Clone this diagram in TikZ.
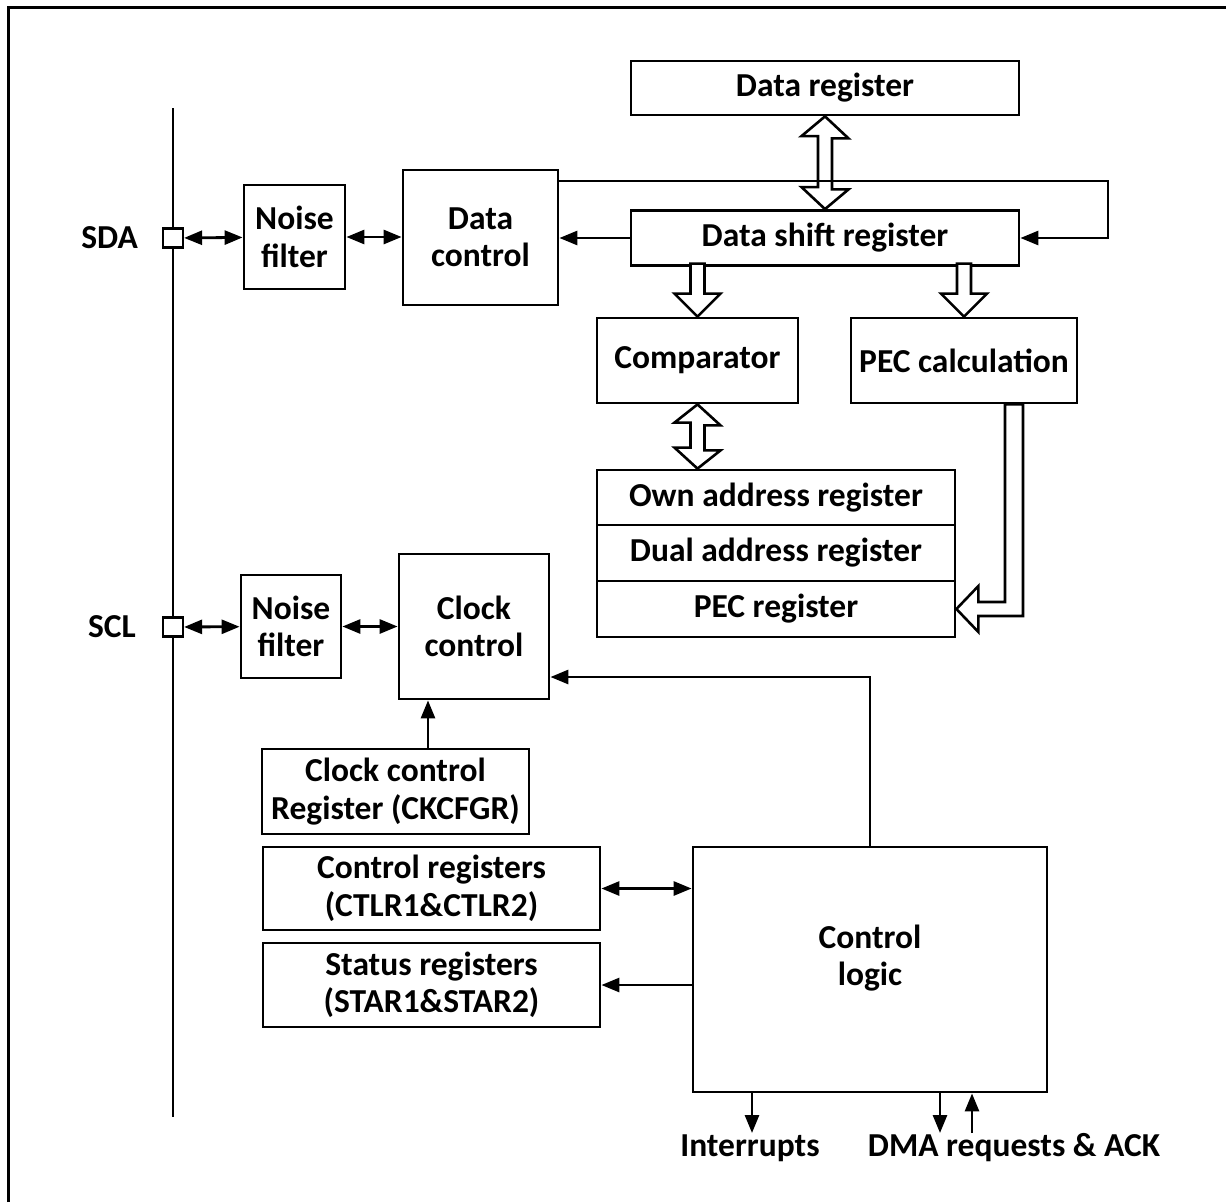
\documentclass[tikz,border=0pt]{standalone}
\usepackage{fontspec}
\setmainfont{Carlito}
\usetikzlibrary{arrows.meta,calc}

\begin{document}
\begin{tikzpicture}[x=1pt,y=-1pt]
    \tikzstyle{blk} = [draw, line width=2.8pt, align=center, inner sep=0pt, font=\bfseries\fontsize{33.5}{37.5}\selectfont]
    \tikzstyle{lbl} = [align=center, inner sep=2pt, font=\bfseries\fontsize{33.5}{37.5}\selectfont]
    \tikzstyle{pad} = [draw, line width=2.2pt, fill=white, minimum width=20pt, minimum height=19pt, inner sep=0pt]
    \tikzstyle{wire} = [line width=2.8pt]
    \tikzstyle{tip} = [-{Triangle[length=18pt,width=14pt]}]
    \tikzstyle{tips} = [{Triangle[length=18pt,width=14pt]}-{Triangle[length=18pt,width=14pt]}]
    \tikzstyle{hollow} = [line width=2.6pt, fill=white, line join=miter]
    \useasboundingbox (0,0) rectangle (1226,1202);
    % frame and bus
    \draw[line width=3pt] (8,1202) -- (8,7) -- (1226,7);
    \draw[wire] (173,108) -- (173,1117);
    % blocks
    \node[pad] (sdapad) at (173,238) {};
    \node[pad] (sclpad) at (173,627) {};
    \node[lbl, anchor=east] (sda) at (140,238) {SDA};
    \node[lbl, anchor=east] (scl) at (138,627) {SCL};
    \node[blk, minimum width=101pt, minimum height=104pt] (nfsda) at (294.5,237) {Noise\\filter};
    \node[blk, minimum width=155pt, minimum height=135pt] (dctl) at (480.5,237.5) {Data\\control};
    \node[blk, minimum width=388pt, minimum height=54pt] (dreg) at (825,88) {Data register};
    \node[blk, minimum width=388pt, minimum height=55pt] (dsr) at (825,238) {Data shift register};
    \node[blk, minimum width=201pt, minimum height=85pt] (comp) at (697.5,360.5) {Comparator};
    \node[blk, minimum width=226pt, minimum height=85pt] (pecc) at (964,360.5) {PEC calculation};
    \node[blk, minimum width=358pt, minimum height=55pt] (own) at (776,497.5) {Own address register};
    \node[blk, minimum width=358pt, minimum height=56pt] (dual) at (776,553) {Dual address register};
    \node[blk, minimum width=358pt, minimum height=56pt] (pecr) at (776,609) {PEC register};
    \node[blk, minimum width=100pt, minimum height=103pt] (nfscl) at (291,626.5) {Noise\\filter};
    \node[blk, minimum width=150pt, minimum height=145pt] (cctl) at (474,626.5) {Clock\\control};
    \node[blk, minimum width=267pt, minimum height=85pt] (ckreg) at (395.5,791.5) {Clock control\\Register (CKCFGR)};
    \node[blk, minimum width=337pt, minimum height=83pt] (creg) at (431.5,888.5) {Control registers\\(CTLR1\&CTLR2)};
    \node[blk, minimum width=337pt, minimum height=84pt] (sreg) at (431.5,985) {Status registers\\(STAR1\&STAR2)};
    \node[blk, minimum width=354pt, minimum height=245pt] (ctl) at (870,969.5) {};
    \node[lbl] (ctltxt) at (870,958) {Control\\logic};
    \node[lbl] (intr) at (750,1148) {Interrupts};
    \node[lbl] (dma) at (1014,1148) {DMA requests \& ACK};
    % hollow bus arrows
    \draw[hollow] (dreg.south) -- ++(23.5,22) -- ++(-16.5,0) -- ++(0,51) -- ++(16.5,0) -- (dsr.north)
        -- ++(-23.5,-22) -- ++(16.5,0) -- ++(0,-51) -- ++(-16.5,0) -- cycle;
    \draw[hollow] (comp.north) -- ++(-23,-23) -- ++(16,0) -- ++(0,-30) -- ++(14,0) -- ++(0,30) -- ++(16,0) -- cycle;
    \draw[hollow] (pecc.north) -- ++(-23,-23) -- ++(16,0) -- ++(0,-30) -- ++(14,0) -- ++(0,30) -- ++(16,0) -- cycle;
    \draw[hollow] (comp.south) -- ++(23,21) -- ++(-16,0) -- ++(0,25) -- ++(16,0) -- (comp.south |- own.north)
        -- ++(-23,-21) -- ++(16,0) -- ++(0,-25) -- ++(-16,0) -- cycle;
    \coordinate (pecdn) at ([xshift=50pt]pecc.south);
    \draw[hollow] (pecr.east) -- ++(22,-23) -- ++(0,16) -- ($(pecdn |- pecr.east)+(-9,-7)$) -- ($(pecdn)+(-9,0)$)
        -- ($(pecdn)+(9,0)$) -- ($(pecdn |- pecr.east)+(9,7)$) -- ($(pecr.east)+(22,7)$) -- ++(0,16) -- cycle;
    % connectors
    \draw[wire, tips] (sdapad) -- (nfsda);
    \draw[wire, tips] (nfsda) -- (dctl.west |- nfsda.east);
    \draw[wire, tips] (sclpad) -- (nfscl);
    \draw[wire, tips] (nfscl) -- (cctl.west |- nfscl.east);
    \draw[wire, tip] (dsr.west) -- (dctl.east |- dsr.west);
    \coordinate (loopc) at (1108,181);
    \draw[wire, tip] (dctl.east |- loopc) -- (loopc) -- (loopc |- dsr.east) -- (dsr.east);
    \coordinate (ckup) at ([xshift=32.5pt]ckreg.north);
    \draw[wire, tip] (ckup) -- (ckup |- cctl.south);
    \draw[wire, tip] (ctl.north) |- ([yshift=-50.5pt]cctl.east);
    \draw[wire, tips] (creg.east) -- (creg.east -| ctl.west);
    \draw[wire, tip] (sreg.east -| ctl.west) -- (sreg.east);
    \coordinate (intout) at (752,1133);
    \coordinate (dmaout) at (940,1133);
    \coordinate (dmain) at (972,1133);
    \draw[wire, tip] (ctl.south -| intout) -- (intout);
    \draw[wire, tip] (ctl.south -| dmaout) -- (dmaout);
    \draw[wire, tip] (dmain) -- (ctl.south -| dmain);
\end{tikzpicture}
\end{document}
